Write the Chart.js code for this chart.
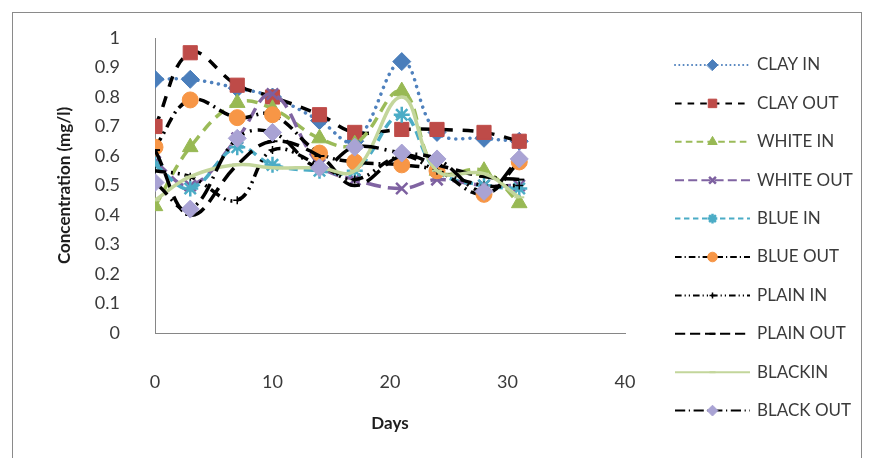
<!DOCTYPE html>
<html>
<head>
<meta charset="utf-8">
<script src="https://cdn.jsdelivr.net/npm/chart.js@4/dist/chart.umd.min.js"></script>
<style>
  html, body { margin: 0; padding: 0; background: #ffffff; }
  #wrap { width: 874px; height: 458px; position: relative; }
</style>
</head>
<body>
<div id="wrap"><canvas id="c" width="874" height="458"></canvas></div>
<script>
// Sampling days
const days = [0, 3, 7, 10, 14, 17, 21, 24, 28, 31];

// Concentration (mg/l) per series
const clayIn   = [0.86, 0.86, 0.83, 0.80, 0.72, 0.65, 0.92, 0.68, 0.66, 0.65];
const clayOut  = [0.70, 0.95, 0.84, 0.80, 0.74, 0.68, 0.69, 0.69, 0.68, 0.65];
const whiteIn  = [0.43, 0.63, 0.78, 0.76, 0.66, 0.64, 0.82, 0.55, 0.55, 0.44];
const whiteOut = [0.58, 0.50, 0.66, 0.81, 0.57, 0.52, 0.49, 0.52, 0.50, 0.50];
const blueIn   = [0.57, 0.49, 0.63, 0.57, 0.55, 0.55, 0.74, 0.55, 0.50, 0.49];
const blueOut  = [0.63, 0.79, 0.73, 0.74, 0.61, 0.58, 0.57, 0.55, 0.47, 0.58];
const plainIn  = [0.55, 0.53, 0.45, 0.62, 0.57, 0.52, 0.60, 0.55, 0.50, 0.50];
const plainOut = [0.62, 0.40, 0.57, 0.65, 0.60, 0.50, 0.60, 0.57, 0.53, 0.52];
const blackIn  = [0.45, 0.53, 0.57, 0.56, 0.56, 0.55, 0.80, 0.55, 0.54, 0.46];
const blackOut = [0.51, 0.42, 0.66, 0.68, 0.56, 0.63, 0.61, 0.59, 0.48, 0.59];

// Axis ticks
const xTicks = [0, 10, 20, 30, 40];
const yTicks = [0, 0.1, 0.2, 0.3, 0.4, 0.5, 0.6, 0.7, 0.8, 0.9, 1];

const seriesNames = ['CLAY IN', 'CLAY OUT', 'WHITE IN', 'WHITE OUT', 'BLUE IN',
                     'BLUE OUT', 'PLAIN IN', 'PLAIN OUT', 'BLACKIN', 'BLACK OUT'];
const seriesValues = [clayIn, clayOut, whiteIn, whiteOut, blueIn,
                      blueOut, plainIn, plainOut, blackIn, blackOut];

// Line and marker styles per series
const styles = [
  { line: '#4F81BD', dash: [0.1, 7], cap: 'round', marker: 'rectRot', mColor: '#4A7EBB', r: 9 },
  { line: '#000000', dash: [11, 10], cap: 'butt', marker: 'rect', mColor: '#BE4B48', r: 10 },
  { line: '#9BBB59', dash: [11, 7], cap: 'butt', marker: 'triangle', mColor: '#98B954', r: 9 },
  { line: '#8064A2', dash: [15, 7], cap: 'butt', marker: 'crossRot', mColor: '#7D60A0', r: 8, mWidth: 2.5 },
  { line: '#4BACC6', dash: [9, 6], cap: 'butt', marker: 'star', mColor: '#4BACC6', r: 8, mWidth: 2.5 },
  { line: '#000000', dash: [11, 5, 2, 5], cap: 'butt', marker: 'circle', mColor: '#F79646', r: 8 },
  { line: '#000000', dash: [11, 5, 2, 5, 2, 5], cap: 'butt', marker: 'cross', mColor: '#000000', r: 4, mWidth: 1.5 },
  { line: '#000000', dash: [17, 8], cap: 'butt', marker: 'line', mColor: '#000000', r: 5, mWidth: 2 },
  { line: '#C3D69B', dash: [], cap: 'butt', marker: 'line', mColor: '#C3D69B', r: 5, mWidth: 2 },
  { line: '#000000', dash: [17, 6, 2, 6], cap: 'butt', marker: 'rectRot', mColor: '#A9A3D4', r: 9 }
];

const datasets = seriesNames.map((name, i) => {
  const s = styles[i];
  return {
    label: name,
    data: days.map((d, k) => ({ x: d, y: seriesValues[i][k] })),
    showLine: true,
    tension: 0.4,
    borderColor: s.line,
    borderWidth: 3.5,
    borderDash: s.dash,
    borderCapStyle: s.cap,
    pointStyle: s.marker,
    pointRadius: s.r,
    pointHoverRadius: s.r,
    pointBackgroundColor: s.mColor,
    pointBorderColor: s.mColor,
    pointBorderWidth: s.mWidth || 1,
    order: seriesNames.length - i
  };
});

// Outer frame of the chart
const framePlugin = {
  id: 'frame',
  beforeDraw(chart) {
    const ctx = chart.ctx;
    ctx.save();
    ctx.fillStyle = '#ffffff';
    ctx.fillRect(0, 0, chart.width, chart.height);
    ctx.strokeStyle = '#8a8a8a';
    ctx.lineWidth = 1;
    ctx.strokeRect(12.5, 12.5, 849, 452);
    ctx.restore();
  }
};

// Legend on the right: line sample with marker, then series name
const sideLegend = {
  id: 'sideLegend',
  afterDraw(chart) {
    const ctx = chart.ctx;
    const x0 = 675, x1 = 750, tx = 757;
    const y0 = 65, step = 38.4;
    chart.data.datasets.forEach((ds, i) => {
      const y = y0 + i * step;
      ctx.save();
      ctx.strokeStyle = ds.borderColor;
      ctx.lineWidth = 2;
      ctx.setLineDash(ds.borderDash.map(v => v * 0.6));
      ctx.lineCap = ds.borderCapStyle;
      ctx.beginPath();
      ctx.moveTo(x0, y);
      ctx.lineTo(x1, y);
      ctx.stroke();
      ctx.setLineDash([]);
      ctx.fillStyle = ds.pointBackgroundColor;
      ctx.strokeStyle = ds.pointBorderColor;
      ctx.lineWidth = ds.pointBorderWidth;
      Chart.helpers.drawPoint(ctx, {
        pointStyle: ds.pointStyle,
        radius: Math.max(3, ds.pointRadius * 0.6),
        rotation: 0,
        borderWidth: ds.pointBorderWidth
      }, (x0 + x1) / 2, y);
      ctx.fillStyle = '#3a3a3a';
      ctx.font = '17px Lato, "Liberation Sans", sans-serif';
      ctx.textBaseline = 'middle';
      ctx.textAlign = 'left';
      ctx.fillText(ds.label, tx, y);
      ctx.restore();
    });
  }
};

const tickFont = { family: 'Lato, "Liberation Sans", sans-serif', size: 18 };
const titleFont = { family: 'Lato, "Liberation Sans", sans-serif', size: 17, weight: 'bold' };

new Chart(document.getElementById('c'), {
  type: 'scatter',
  data: { datasets },
  plugins: [framePlugin, sideLegend],
  options: {
    responsive: false,
    animation: false,
    devicePixelRatio: 1,
    layout: { padding: { left: 0, right: 249, top: 38, bottom: 0 } },
    plugins: { legend: { display: false }, tooltip: { enabled: false } },
    scales: {
      x: {
        type: 'linear',
        min: xTicks[0],
        max: xTicks[xTicks.length - 1],
        afterBuildTicks(scale) { scale.ticks = xTicks.map(v => ({ value: v })); },
        afterFit(scale) { scale.height = 125; },
        grid: { display: false },
        border: { display: true, color: '#868686', width: 1 },
        ticks: { color: '#3a3a3a', font: tickFont, padding: 30, maxRotation: 0,
                 callback: v => String(v) },
        title: { display: true, text: 'Days', color: '#1e1e1e', font: titleFont,
                 padding: { top: 0, bottom: 24 } }
      },
      y: {
        type: 'linear',
        min: yTicks[0],
        max: yTicks[yTicks.length - 1],
        afterBuildTicks(scale) { scale.ticks = yTicks.map(v => ({ value: v })); },
        afterFit(scale) { scale.width = 155; },
        grid: { display: false },
        border: { display: true, color: '#868686', width: 1 },
        ticks: { color: '#3a3a3a', font: tickFont, padding: 27,
                 callback: v => (v === 0 || v === 1) ? String(v) : Number(v).toFixed(1) },
        title: { display: true, text: 'Concentration (mg/l)', color: '#1e1e1e', font: titleFont,
                 padding: { top: 54, bottom: 0 } }
      }
    }
  }
});
</script>
</body>
</html>
